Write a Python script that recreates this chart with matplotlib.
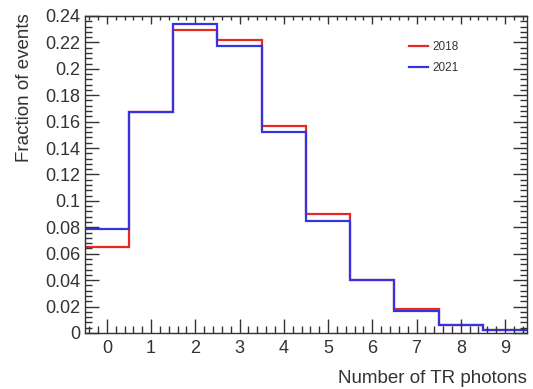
import numpy as np
import matplotlib
matplotlib.use('Agg')
import matplotlib.pyplot as plt
from matplotlib.ticker import MultipleLocator, NullFormatter

# number of TR photons (bin centres)
n_photons = [0, 1, 2, 3, 4, 5, 6, 7, 8, 9]
frac_2018 = [0.065, 0.167, 0.229, 0.222, 0.157, 0.090, 0.040, 0.018, 0.006, 0.0025]
frac_2021 = [0.079, 0.167, 0.234, 0.217, 0.152, 0.085, 0.040, 0.017, 0.006, 0.002]

plt.rcParams['font.family'] = ['Liberation Sans', 'DejaVu Sans']
fg = '#333333'

fig = plt.figure(figsize=(5.33, 3.89), dpi=100)
ax = fig.add_axes([0.159, 0.144, 0.830, 0.815])

edges = np.append(np.array(n_photons) - 0.5, n_photons[-1] + 0.5)
ax.stairs(frac_2018, edges, color='#e42a22', lw=1.6, baseline=None, label='2018')
ax.stairs(frac_2021, edges, color='#3434e2', lw=1.6, baseline=None, label='2021')

ax.set_xlim(-0.5, 9.5)
ax.set_ylim(0, 0.24)
ax.xaxis.set_major_locator(MultipleLocator(1))
ax.xaxis.set_minor_locator(MultipleLocator(0.2))
ax.yaxis.set_major_locator(MultipleLocator(0.02))
ax.yaxis.set_minor_locator(MultipleLocator(0.004))
ax.yaxis.set_major_formatter(plt.FuncFormatter(lambda v, p: ('%.2f' % v).rstrip('0').rstrip('.') if v else '0'))

ax.tick_params(which='both', direction='in', top=False, right=True, colors=fg, labelcolor=fg, width=1.0)
ax.tick_params(which='major', length=10, labelsize=13)
ax.tick_params(which='minor', length=5)
ax.tick_params(axis='x', which='major', pad=5)
ax.tick_params(axis='y', which='major', pad=3)

# shorter mirrored ticks on top
top = ax.secondary_xaxis('top')
top.xaxis.set_major_locator(MultipleLocator(1))
top.xaxis.set_minor_locator(MultipleLocator(0.2))
top.xaxis.set_major_formatter(NullFormatter())
top.tick_params(which='both', direction='in', colors=fg, width=1.0)
top.tick_params(which='major', length=6)
top.tick_params(which='minor', length=3)
top.spines['top'].set_color(fg)

for s in ax.spines.values():
    s.set_color(fg)
    s.set_linewidth(1.0)

ax.set_xlabel('Number of TR photons', fontsize=13.5, color=fg, ha='right')
ax.xaxis.set_label_coords(1.0, -0.118)
ax.set_ylabel('Fraction of events', fontsize=13.5, color=fg, ha='right')
ax.yaxis.set_label_coords(-0.118, 1.01)

leg = ax.legend(loc='upper left', bbox_to_anchor=(0.71, 0.955), frameon=False, fontsize=8.5,
                handlelength=1.6, labelspacing=0.75, handletextpad=0.35)
for t in leg.get_texts():
    t.set_color(fg)

fig.savefig('out.png', dpi=100)
